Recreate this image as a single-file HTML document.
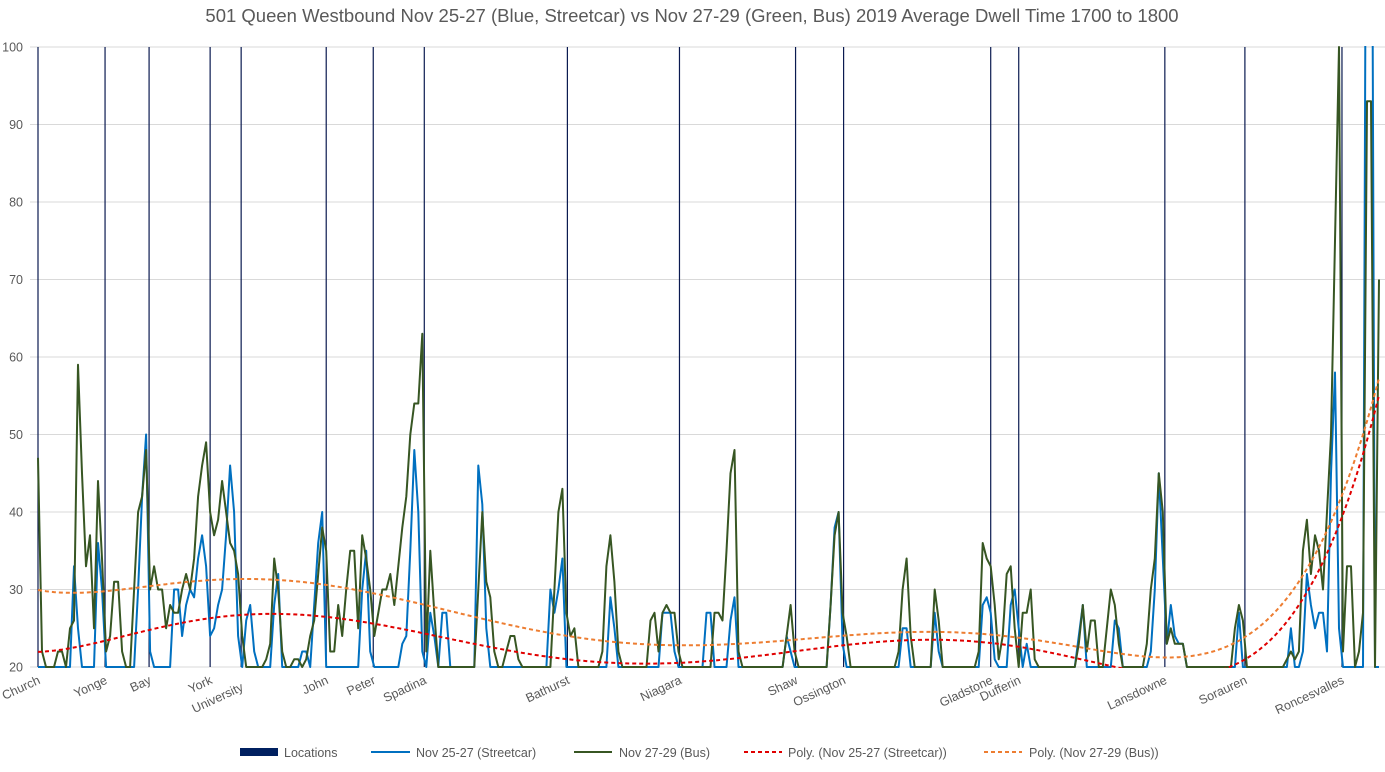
<!DOCTYPE html>
<html><head><meta charset="utf-8"><title>501 Queen Westbound Dwell Time</title>
<style>
html,body{margin:0;padding:0;background:#fff;}
body{width:1385px;height:767px;overflow:hidden;font-family:"Liberation Sans",Arial,sans-serif;}
svg text{font-family:"Liberation Sans",Arial,sans-serif;fill:#595959;}
</style></head>
<body>
<svg id="chart" width="1385" height="767" xmlns="http://www.w3.org/2000/svg">
<text x="692" y="22" text-anchor="middle" font-size="18.5">501 Queen Westbound Nov 25-27 (Blue, Streetcar) vs Nov 27-29 (Green, Bus) 2019 Average Dwell Time 1700 to 1800</text>
<defs><clipPath id="plotclip"><rect x="30" y="46" width="1355" height="622"/></clipPath></defs>
<g id="grid"></g>
<g id="yaxis"></g>
<g id="locs"></g>
<g id="series" clip-path="url(#plotclip)"></g>
<g id="xlabels"></g>
<g id="legend">
  <g><rect x="240" y="748" width="38" height="8" fill="#002060"/><text x="284" y="757" font-size="12.5">Locations</text></g>
  <g><line x1="371" y1="752" x2="410" y2="752" stroke="#0070c0" stroke-width="2"/><text x="416" y="757" font-size="12.5">Nov 25-27 (Streetcar)</text></g>
  <g><line x1="574" y1="752" x2="612" y2="752" stroke="#375623" stroke-width="2"/><text x="619" y="757" font-size="12.5">Nov 27-29 (Bus)</text></g>
  <g><line x1="744" y1="752" x2="782" y2="752" stroke="#e00000" stroke-width="2" stroke-dasharray="4,3"/><text x="788" y="757" font-size="12.5">Poly. (Nov 25-27 (Streetcar))</text></g>
  <g><line x1="984" y1="752" x2="1022" y2="752" stroke="#ed7d31" stroke-width="2" stroke-dasharray="4,3"/><text x="1029" y="757" font-size="12.5">Poly. (Nov 27-29 (Bus))</text></g>
</g>
</svg>
<script>
const yTicks = [20,30,40,50,60,70,80,90,100];
const locNames = ["Church","Yonge","Bay","York","University","John","Peter","Spadina","Bathurst","Niagara","Shaw","Ossington","Gladstone","Dufferin","Lansdowne","Sorauren","Roncesvalles"];
const locIndex = [0,16.75,27.75,43,50.75,72,83.75,96.5,132.25,160.25,189.25,201.25,238,245,281.5,301.5,325.75];
const streetcar = [20,20,20,20,20,20,20,20,20,33,25,20,20,20,20,36,30,20,20,20,20,20,20,20,20,30,42,50,22,20,20,20,20,20,30,30,24,28,30,29,34,37,33,24,25,28,30,37,46,40,24,20,26,28,22,20,20,20,20,28,32,20,20,20,20,20,22,22,20,28,36,40,20,20,20,20,20,20,20,20,20,30,35,22,20,20,20,20,20,20,20,23,24,35,48,40,22,20,27,24,20,27,27,20,20,20,20,20,20,20,46,41,25,20,20,20,20,20,20,20,20,20,20,20,20,20,20,20,30,27,30,34,20,20,20,20,20,20,20,20,20,20,20,29,25,20,20,20,20,20,20,20,20,20,20,20,27,27,27,22,20,20,20,20,20,20,20,27,27,20,20,20,20,26,29,20,20,20,20,20,20,20,20,20,20,20,20,24,22,20,20,20,20,20,20,20,20,20,28,38,40,23,20,20,20,20,20,20,20,20,20,20,20,20,20,20,25,25,20,20,20,20,20,20,27,22,20,20,20,20,20,20,20,20,20,20,28,29,27,21,20,20,20,28,30,25,20,23,20,20,20,20,20,20,20,20,20,20,20,20,24,28,20,20,20,20,20,20,20,26,25,20,20,20,20,20,20,20,22,30,45,34,23,28,24,23,23,20,20,20,20,20,20,20,20,20,20,20,20,20,27,20,20,20,20,20,20,20,20,20,20,20,20,25,20,20,22,32,28,25,27,27,22,45,58,25,20,20,20,20,20,20,160,160,20,20];
const bus = [47,22,20,20,20,22,22,20,25,26,59,45,33,37,25,44,34,22,24,31,31,22,20,20,30,40,42,48,30,33,30,30,25,28,27,27,30,32,30,34,42,46,49,40,37,39,44,40,36,35,32,24,20,20,20,20,20,21,23,34,30,22,20,20,21,21,20,21,24,26,32,38,35,22,22,28,24,30,35,35,25,37,34,30,24,27,30,30,32,28,33,38,42,50,54,54,63,22,35,27,20,20,20,20,20,20,20,20,20,20,30,40,31,29,22,20,20,22,24,24,21,20,20,20,20,20,20,20,20,30,40,43,27,24,25,20,20,20,20,20,20,22,33,37,31,22,20,20,20,20,20,20,20,26,27,22,27,28,27,27,22,20,20,20,20,20,20,20,20,27,27,26,35,45,48,22,20,20,20,20,20,20,20,20,20,20,20,24,28,22,20,20,20,20,20,20,20,20,28,37,40,27,24,20,20,20,20,20,20,20,20,20,20,20,20,22,30,34,24,20,20,20,20,20,30,26,20,20,20,20,20,20,20,20,20,22,36,34,33,28,21,24,32,33,25,20,27,27,30,21,20,20,20,20,20,20,20,20,20,20,23,28,22,26,26,20,20,25,30,28,23,20,20,20,20,20,20,23,30,34,45,40,23,25,23,23,23,20,20,20,20,20,20,20,20,20,20,20,20,25,28,26,20,20,20,20,20,20,20,20,20,20,21,22,21,22,35,39,32,37,35,30,40,50,75,100,22,33,33,20,22,27,93,93,20,70];

const X0 = 38, X1 = 1379, Y20 = 667, Y100 = 47;
const N = bus.length;
function xs(i){ return X0 + (X1 - X0) * i / (N - 1); }
function ys(v){ return Y20 - (v - 20) * (Y20 - Y100) / 80; }
const NS = "http://www.w3.org/2000/svg";
function mk(tag, parent){ const e = document.createElementNS(NS, tag); parent.appendChild(e); return e; }

const grid = document.getElementById('grid'), yax = document.getElementById('yaxis');
yTicks.forEach(t => {
  const l = mk('line', grid);
  
  
  l.setAttribute('x1', 30); l.setAttribute('x2', 1385);
  l.setAttribute('y1', ys(t)); l.setAttribute('y2', ys(t));
  l.setAttribute('stroke', '#d9d9d9'); l.setAttribute('stroke-width', '1');
  const tx = mk('text', yax);
  
  
  tx.setAttribute('x', 23); tx.setAttribute('y', ys(t) + 4.5);
  tx.setAttribute('text-anchor', 'end'); tx.setAttribute('font-size', '12.5');
  tx.textContent = t;
});

const locs = document.getElementById('locs'), xl = document.getElementById('xlabels');
locIndex.forEach((li, k) => {
  const x = xs(li);
  const l = mk('line', locs);
  
  
  l.setAttribute('x1', x); l.setAttribute('x2', x);
  l.setAttribute('y1', Y100); l.setAttribute('y2', Y20);
  l.setAttribute('stroke', '#0a1a50'); l.setAttribute('stroke-width', '1.2');
  const tx = mk('text', xl);
  
  
  const lx = x + 3, ly = (locNames[k] === 'University') ? 690 : 683;
  tx.setAttribute('x', lx); tx.setAttribute('y', ly);
  tx.setAttribute('text-anchor', 'end'); tx.setAttribute('font-size', '12.5');
  tx.setAttribute('transform', 'rotate(-25 ' + lx + ' ' + ly + ')');
  tx.textContent = locNames[k];
});

const ser = document.getElementById('series');
function drawLine(vals, color, name){
  const p = mk('polyline', ser);
  
  
  p.setAttribute('points', vals.map((v, i) => xs(i).toFixed(1) + ',' + ys(v).toFixed(1)).join(' '));
  p.setAttribute('fill', 'none'); p.setAttribute('stroke', color);
  p.setAttribute('stroke-width', '2'); p.setAttribute('stroke-linejoin', 'round');
}
function polyfit(vals, deg){
  const n = vals.length, m = deg + 1;
  const A = Array.from({length: m}, () => new Array(m + 1).fill(0));
  for (let i = 0; i < n; i++){
    const t = 2 * i / (n - 1) - 1; const pw = [1];
    for (let d = 1; d < 2 * m; d++) pw.push(pw[d - 1] * t);
    for (let r = 0; r < m; r++){ for (let c = 0; c < m; c++) A[r][c] += pw[r + c]; A[r][m] += pw[r] * vals[i]; }
  }
  for (let c = 0; c < m; c++){
    let piv = c; for (let r = c + 1; r < m; r++) if (Math.abs(A[r][c]) > Math.abs(A[piv][c])) piv = r;
    [A[c], A[piv]] = [A[piv], A[c]];
    for (let r = 0; r < m; r++){ if (r === c) continue; const f = A[r][c] / A[c][c]; for (let k = c; k <= m; k++) A[r][k] -= f * A[c][k]; }
  }
  const coef = A.map((row, r) => row[m] / row[r]);
  return vals.map((_, i) => { const t = 2 * i / (n - 1) - 1; let s = 0, p = 1; for (let d = 0; d < m; d++){ s += coef[d] * p; p *= t; } return s; });
}
drawLine(streetcar, '#0070c0', 'streetcar-series');
drawLine(bus, '#375623', 'bus-series');
function drawTrend(vals, color, name){
  const fit = polyfit(vals, 6);
  const p = mk('polyline', ser);
  
  
  p.setAttribute('points', fit.map((v, i) => xs(i).toFixed(1) + ',' + ys(v).toFixed(1)).join(' '));
  p.setAttribute('fill', 'none'); p.setAttribute('stroke', color);
  p.setAttribute('stroke-width', '2'); p.setAttribute('stroke-dasharray', '4,3');
}
drawTrend(streetcar, '#e00000', 'poly-trend-streetcar');
drawTrend(bus, '#ed7d31', 'poly-trend-bus');
</script>
</body></html>
